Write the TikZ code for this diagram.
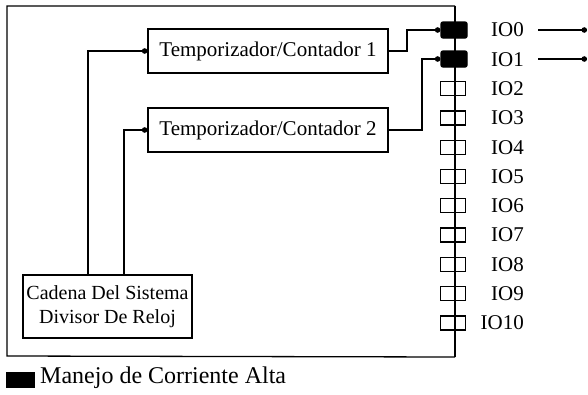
\documentclass[tikz,border=0pt]{standalone}
\usepackage{fontspec}
\setmainfont{Liberation Serif}
\usetikzlibrary{arrows.meta}
\begin{document}
\begin{tikzpicture}[x=1pt,y=-1pt,
  every node/.style={font=\fontsize{21}{24}\selectfont},
  line/.style={line width=1.3pt},
  conn/.style={line width=1.3pt,-{Circle[length=5.5pt]}},
  boxstyle/.style={draw,line width=1.3pt,minimum width=240pt,minimum height=44pt,inner sep=0pt},
  pinw/.style={draw,line width=1.3pt,minimum width=25pt,minimum height=14pt,inner sep=0pt},
  pinb/.style={draw,fill=black,rounded corners=2pt,line width=1.3pt,minimum width=26pt,minimum height=16pt,inner sep=0pt},
  lbl/.style={anchor=east,inner sep=0pt}]
\useasboundingbox (0,0) rectangle (588,394);
% frame
\coordinate (tr) at (455,6);
\coordinate (br) at (455,357);
\draw[line] (tr) -- (7,6) -- (7,356) -- (br);
% timer boxes
\node[boxstyle] (t1) at (268,51) {Temporizador/Contador 1};
\node[boxstyle] (t2) at (268,130) {Temporizador/Contador 2};
% clock divider
\node[draw,line width=1.3pt,minimum width=169pt,minimum height=63pt,inner sep=0pt,align=center,
  font=\fontsize{20}{24}\selectfont] (cad) at (107.5,306.5) {Cadena Del Sistema\\ Divisor De Reloj};
% pins
\node[pinb] (p0) at (454,30) {};
\node[pinb] (p1) at (454,59) {};
\foreach \i in {2,...,10} {
  \node[pinw] (p\i) at (453,{30+29.3*\i}) {};
}
\foreach \i in {0,...,10} {
  \node[lbl] (l\i) at (524,{30+29.3*\i}) {IO\i};
}
% bus
\draw[line] (tr) -- (br);
% inputs to timers
\coordinate (a1) at (88,0);
\coordinate (a2) at (124,0);
\draw[conn] (cad.north -| a1) |- (t1.west);
\draw[conn] (cad.north -| a2) |- (t2.west);
% timer outputs to pins
\coordinate (b1) at (407,0);
\coordinate (b2) at (422,0);
\draw[conn] (t1.east) -- (t1.east -| b1) |- (p0.west);
\draw[conn] (t2.east) -- (t2.east -| b2) |- (p1.west);
% external lines
\coordinate (e0s) at (538,30);
\coordinate (e0e) at (587,30);
\coordinate (e1s) at (538,59);
\coordinate (e1e) at (587,59);
\draw[conn] (e0s) -- (e0e);
\draw[conn] (e1s) -- (e1e);
% legend
\node[fill=black,minimum width=29pt,minimum height=16pt,inner sep=0pt] (leg) at (20.5,380) {};
\node[anchor=west,inner sep=0pt,font=\fontsize{24}{27}\selectfont] (legt) at (40,378) {Manejo de Corriente Alta};
\end{tikzpicture}
\end{document}
